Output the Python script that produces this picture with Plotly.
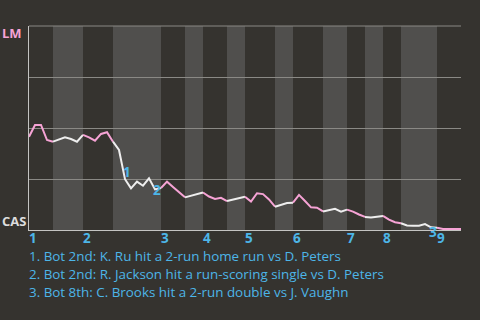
import plotly.graph_objects as go

# Win probability for LM (away) after each event
wp = [0.457, 0.515, 0.515, 0.441, 0.433, 0.444, 0.454, 0.446, 0.433, 0.466,
      0.454, 0.438, 0.471, 0.479, 0.433, 0.392, 0.249, 0.204, 0.237, 0.217,
      0.253, 0.199, 0.206, 0.237, 0.211, 0.186, 0.160, 0.169, 0.176, 0.184,
      0.164, 0.152, 0.158, 0.142, 0.150, 0.158, 0.163, 0.139, 0.180, 0.176,
      0.150, 0.114, 0.123, 0.132, 0.134, 0.172, 0.142, 0.111, 0.109, 0.091,
      0.098, 0.104, 0.090, 0.100, 0.090, 0.076, 0.064, 0.061, 0.065, 0.069,
      0.051, 0.038, 0.033, 0.022, 0.021, 0.021, 0.029, 0.013, 0.011, 0.005,
      0.005, 0.005, 0.005]

# Event index where each half-inning starts (last value = end of game)
half_bounds = [0, 4, 9, 14, 22, 26, 29, 33, 36, 41, 44, 49, 53, 56, 59, 62, 68, 72]
inning_labels = ["1", "2", "3", "4", "5", "6", "7", "8", "9"]

key_idx = [16, 21, 67]
key_marks = ["1", "2", "3"]
key_text = [
    "1. Bot 2nd: K. Ru hit a 2-run home run vs D. Peters",
    "2. Bot 2nd: R. Jackson hit a run-scoring single vs D. Peters",
    "3. Bot 8th: C. Brooks hit a 2-run double vs J. Vaughn",
]

BG = "#35332f"
BAND = "#504f4d"
PINK = "#f6a3d5"
WHITE = "#eeeeee"
BLUE = "#4db6e8"
GRID = "#8a8985"
FONT = "Open Sans"

fig = go.Figure()

shapes = []
for k in range(len(half_bounds) - 1):
    a, b = half_bounds[k], half_bounds[k + 1]
    if k % 2 == 1:
        shapes.append(dict(type="rect", xref="x", yref="paper", x0=a, x1=b, y0=0, y1=1,
                           fillcolor=BAND, line=dict(width=0), layer="below"))
    color = PINK if k % 2 == 0 else WHITE
    fig.add_trace(go.Scatter(x=list(range(a, b + 1)), y=wp[a:b + 1], mode="lines",
                             line=dict(color=color, width=2), hoverinfo="skip",
                             showlegend=False))
# top gridline (plotly hides the one on the range edge)
shapes.append(dict(type="line", xref="paper", yref="paper", x0=0, x1=1, y0=1, y1=1,
                   line=dict(color=GRID, width=1), layer="between"))

annotations = []
# inning numbers
for i, lab in enumerate(inning_labels):
    annotations.append(dict(x=half_bounds[2 * i], y=0, xref="x", yref="paper",
                            text="<b>" + lab + "</b>", showarrow=False, borderpad=0,
                            xanchor="left", yanchor="middle", xshift=-1, yshift=-8,
                            font=dict(color=BLUE, size=13.5, family=FONT)))
# key event markers
offs = [(2, 7), (2, -1), (2, -5)]
for idx, m, (dx, dy) in zip(key_idx, key_marks, offs):
    annotations.append(dict(x=idx, y=wp[idx], xref="x", yref="y",
                            text="<b>" + m + "</b>", showarrow=False, borderpad=0,
                            xanchor="center", yanchor="middle", xshift=dx, yshift=dy,
                            font=dict(color=BLUE, size=13.5, family=FONT)))
# key event descriptions
for j, t in enumerate(key_text):
    annotations.append(dict(x=0, y=0, xref="paper", yref="paper", text=t,
                            showarrow=False, xanchor="left", yanchor="middle", borderpad=0,
                            xshift=-1, yshift=-26 - 18 * j,
                            font=dict(color=BLUE, size=13.4, family=FONT)))
# team labels
annotations.append(dict(x=0, y=1, xref="paper", yref="y", text="<b>LM</b>",
                        showarrow=False, xanchor="left", yanchor="middle", borderpad=0,
                        xshift=-28, yshift=-7, font=dict(color=PINK, size=13, family=FONT)))
annotations.append(dict(x=0, y=0, xref="paper", yref="y", text="<b>CAS</b>",
                        showarrow=False, xanchor="left", yanchor="middle", borderpad=0,
                        xshift=-28, yshift=9, font=dict(color="#dddddd", size=13, family=FONT)))

fig.update_layout(
    width=480, height=320,
    margin=dict(l=29, r=19, t=26, b=90),
    paper_bgcolor=BG, plot_bgcolor=BG,
    shapes=shapes, annotations=annotations,
    xaxis=dict(range=[0, 72], showgrid=False, zeroline=False, showticklabels=False,
               ticks="", showline=True, linecolor="#c4c4c2", linewidth=1, fixedrange=True),
    yaxis=dict(range=[0, 1], tickvals=[0, 0.25, 0.5, 0.75, 1], showgrid=True,
               gridcolor=GRID, gridwidth=1, zeroline=False, showticklabels=False,
               ticks="", showline=True, linecolor="#c4c4c2", linewidth=1, fixedrange=True),
    showlegend=False,
)

fig.write_html("out.html")
